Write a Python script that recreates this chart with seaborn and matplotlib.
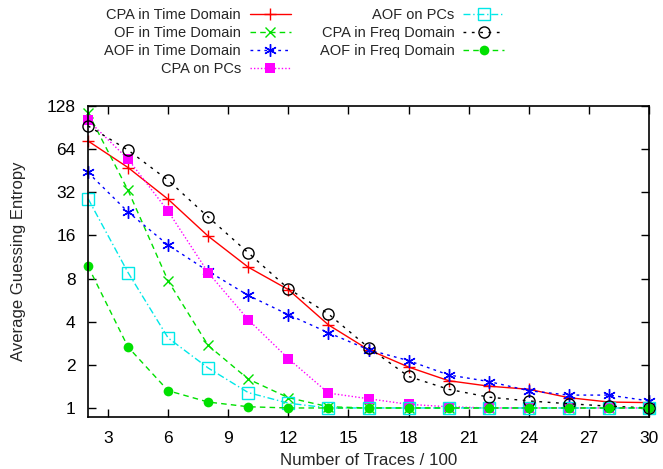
import matplotlib
matplotlib.use("Agg")
import matplotlib.pyplot as plt
import seaborn as sns
import numpy as np
from matplotlib.ticker import FixedLocator, FixedFormatter, NullLocator

traces = [2, 4, 6, 8, 10, 12, 14, 16, 18, 20, 22, 24, 26, 28, 30]

cpa_time = [73, 47.6, 28.6, 15.8, 9.6, 6.7, 3.8, 2.55, 1.93, 1.55, 1.42, 1.35, 1.18, 1.1, 1.09]
of_time = [115, 33, 7.7, 2.73, 1.59, 1.18, 1.02, 1.0, 1.0, 1.0, 1.0, 1.0, 1.0, 1.0, 1.0]
aof_time = [44, 23.3, 13.7, 9.0, 6.1, 4.48, 3.35, 2.55, 2.14, 1.7, 1.53, 1.32, 1.23, 1.23, 1.12]
cpa_pcs = [102, 54.5, 23.6, 8.8, 4.13, 2.21, 1.27, 1.16, 1.06, 1.02, 1.0, 1.0, 1.0, 1.0, 1.0]
aof_pcs = [28.9, 8.8, 3.08, 1.9, 1.28, 1.08, 1.0, 1.0, 1.0, 1.0, 1.0, 1.0, 1.0, 1.0, 1.0]
cpa_freq = [93, 63, 38.8, 21.5, 12.1, 6.8, 4.53, 2.64, 1.66, 1.35, 1.19, 1.12, 1.07, 1.03, 1.0]
aof_freq = [9.76, 2.66, 1.32, 1.1, 1.02, 1.0, 1.0, 1.0, 1.0, 1.0, 1.0, 1.0, 1.0, 1.0, 1.0]

x_ticks = [3, 6, 9, 12, 15, 18, 21, 24, 27, 30]
y_ticks = [1, 2, 4, 8, 16, 32, 64, 128]

sns.set_theme(style="white")
plt.rcParams['font.family'] = ['Liberation Sans', 'DejaVu Sans']

fig = plt.figure(figsize=(6.63, 4.69), dpi=100)
ax = fig.add_axes([88/663, 1-417/469, (649-88)/663, (417-106)/469])

series = [
    ("CPA in Time Domain", cpa_time, dict(color="#ff0000", linestyle="-", marker="+", markersize=9, mew=1.0)),
    ("OF in Time Domain", of_time, dict(color="#00e000", linestyle=(0, (4, 3)), marker="x", markersize=7, mew=1.0)),
    ("AOF in Time Domain", aof_time, dict(color="#0000ff", linestyle=(0, (2, 3)), marker=(6, 2, 0), markersize=9, mew=1.0)),
    ("CPA on PCs", cpa_pcs, dict(color="#ff00ff", linestyle=(0, (1, 1.5)), marker="s", markersize=7, mew=0)),
    ("AOF on PCs", aof_pcs, dict(color="#00e8e8", linestyle=(0, (5, 2, 1, 2)), marker="s", markersize=8, mfc="none", mew=1.0)),
    ("CPA in Freq Domain", cpa_freq, dict(color="#000000", linestyle=(0, (2, 4)), marker="o", markersize=8, mfc="none", mew=1.0)),
    ("AOF in Freq Domain", aof_freq, dict(color="#00e000", linestyle=(0, (4, 3)), marker="o", markersize=7, mew=0)),
]

for name, vals, st in series:
    sns.lineplot(x=traces, y=vals, ax=ax, label=name, linewidth=1.0, clip_on=False,
                 mec=st["color"], **st)

ax.set_yscale("log", base=2)
ax.set_xlim(2, 30)
ax.set_ylim(0.865, 128)
ax.xaxis.set_major_locator(FixedLocator(x_ticks))
ax.xaxis.set_minor_locator(NullLocator())
ax.yaxis.set_major_locator(FixedLocator(y_ticks))
ax.yaxis.set_major_formatter(FixedFormatter([str(v) for v in y_ticks]))
ax.yaxis.set_minor_locator(NullLocator())
ax.tick_params(direction="in", length=6, width=1, top=True, right=True, bottom=True, left=True,
               labelsize=12.5, colors="black")
ax.tick_params(axis="x", pad=10)
ax.tick_params(axis="y", pad=9)
for s in ax.spines.values():
    s.set_color("black")
    s.set_linewidth(1.2)

ax.set_xlabel("Number of Traces / 100", fontsize=12.2, labelpad=5)
ax.set_ylabel("Average Guessing Entropy", fontsize=12, labelpad=15)

h, l = ax.get_legend_handles_labels()
ax.get_legend().remove()
fig.legend(h, l, loc="upper right", bbox_to_anchor=(504/663, 1-8/469), ncol=2, frameon=False,
           markerfirst=False, fontsize=10.5, handlelength=2.8, columnspacing=2.0,
           labelspacing=0.28, handletextpad=0.6, borderpad=0, borderaxespad=0)

fig.savefig("out.png", dpi=100)
